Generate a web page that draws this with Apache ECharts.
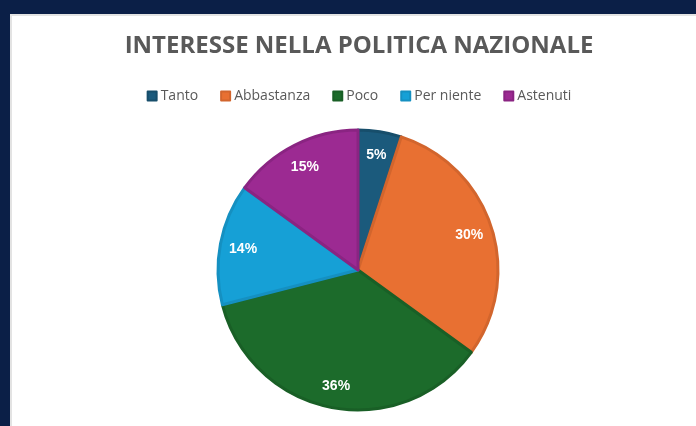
<!DOCTYPE html>
<html>
<head>
<meta charset="utf-8">
<script src="https://cdn.jsdelivr.net/npm/echarts@6/dist/echarts.min.js"></script>
<style>
  html, body { margin: 0; padding: 0; width: 696px; height: 426px; overflow: hidden; background: #0b1f47; }
  #panel { position: absolute; left: 10px; top: 14px; right: 0; bottom: 0; background: #ffffff; border-top: 2px solid #e3e3e3; border-left: 2px solid #e3e3e3; }
  #chart { position: absolute; left: 22px; top: 0; width: 674px; height: 426px; }
</style>
</head>
<body>
<div id="panel"></div>
<div id="chart"></div>
<script>
// Interesse nella politica nazionale (percentuali)
const categories = ['Tanto', 'Abbastanza', 'Poco', 'Per niente', 'Astenuti'];
const values = [5, 30, 36, 14, 15];
const fillColors = ['#1b5a7c', '#e87032', '#1c6b2b', '#16a0d6', '#9c2a92'];
const edgeColors = ['#174e6b', '#d2652d', '#195f26', '#1590c1', '#8a2482'];

const sliceData = categories.map((name, i) => ({
  name,
  value: values[i],
  itemStyle: { color: fillColors[i], borderColor: edgeColors[i] }
}));

const labelData = categories.map((name, i) => ({ name, value: values[i] }));

const chart = echarts.init(document.getElementById('chart'), null, { renderer: 'canvas' });
chart.setOption({
  animation: false,
  title: {
    text: 'INTERESSE NELLA POLITICA NAZIONALE',
    left: 'center',
    top: 29,
    textStyle: { fontFamily: 'Open Sans', fontWeight: 'bold', fontSize: 24, color: '#595959' }
  },
  legend: {
    data: categories,
    top: 84,
    left: 'center',
    itemWidth: 9,
    itemHeight: 9,
    itemGap: 22,
    icon: 'rect',
    textStyle: { fontFamily: 'Open Sans', fontSize: 14, color: '#595959', padding: [0, 0, 0, -1] }
  },
  series: [
    {
      type: 'pie',
      center: [336, 270],
      radius: 140,
      startAngle: 90,
      clockwise: true,
      data: sliceData,
      itemStyle: { borderWidth: 3 },
      label: { show: false },
      labelLine: { show: false },
      silent: true
    },
    {
      // transparent ring that only carries the percentage labels near the rim
      type: 'pie',
      center: [336, 271],
      radius: [88, 140],
      startAngle: 90,
      clockwise: true,
      data: labelData,
      itemStyle: { color: 'rgba(0,0,0,0)', borderWidth: 0 },
      label: {
        show: true,
        position: 'inside',
        formatter: '{c}%',
        color: '#ffffff',
        fontFamily: 'Liberation Sans',
        fontWeight: 'bold',
        fontSize: 14
      },
      labelLine: { show: false },
      legendHoverLink: false,
      silent: true
    }
  ]
});
</script>
</body>
</html>
